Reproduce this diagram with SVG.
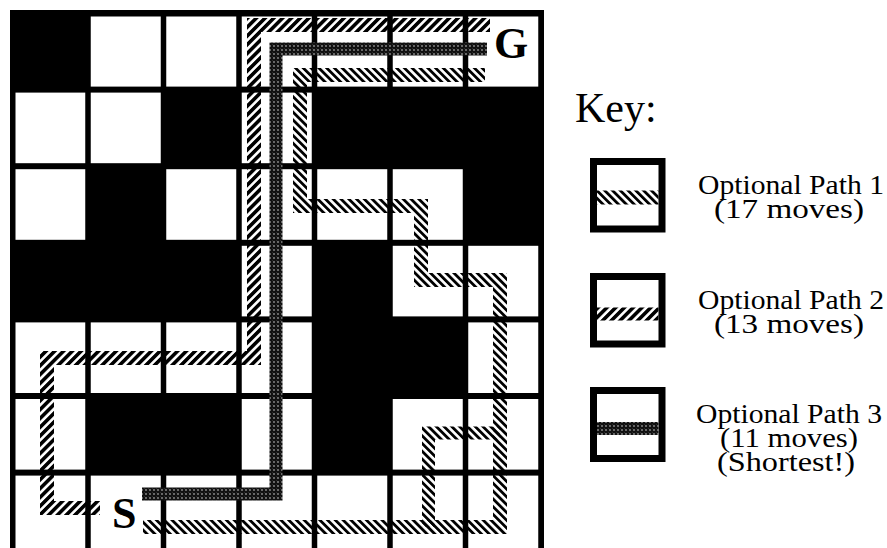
<svg xmlns="http://www.w3.org/2000/svg" width="887" height="548" viewBox="0 0 887 548">
<defs>
<style>
.c{fill:#fff}
.p1{fill:none;stroke:url(#h1);stroke-width:14;stroke-linejoin:miter}
.p2{fill:none;stroke:url(#h2);stroke-width:14;stroke-linejoin:miter}
.p3{fill:none;stroke:url(#h3);stroke-width:13;stroke-linejoin:miter}
.lbl{font-family:"Liberation Serif","Times New Roman",serif;font-weight:bold;font-size:44px;fill:#000}
.kt{font-family:"Liberation Serif","Times New Roman",serif;font-size:27px;fill:#000;text-anchor:middle}
.kb{fill:#fff;stroke:#000;stroke-width:7}
</style>
<pattern id="h1" width="5.5" height="5.5" patternUnits="userSpaceOnUse" patternTransform="rotate(-45)"><rect width="2.8" height="5.5" fill="#000"/></pattern>
<pattern id="h2" width="6.2" height="6.2" patternUnits="userSpaceOnUse" patternTransform="rotate(45)"><rect width="3.6" height="6.2" fill="#000"/></pattern>
<pattern id="h3" width="4" height="4" patternUnits="userSpaceOnUse"><rect width="4" height="4" fill="#111"/><circle cx="2" cy="2" r="0.7" fill="#fff"/><circle cx="0" cy="0" r="0.5" fill="#888"/></pattern>
</defs>
<rect width="887" height="548" fill="#fff"/>
<g id="grid">
<rect x="10" y="10" width="534" height="545" fill="#000"/>
<rect class="c" x="90.75" y="16.5" width="70" height="70.1"/>
<rect class="c" x="166.25" y="16.5" width="70" height="70.1"/>
<rect class="c" x="241.75" y="16.5" width="70" height="70.1"/>
<rect class="c" x="317.25" y="16.5" width="70" height="70.1"/>
<rect class="c" x="392.75" y="16.5" width="70" height="70.1"/>
<rect class="c" x="468.25" y="16.5" width="70" height="70.1"/>
<rect class="c" x="15.5" y="92.6" width="69.75" height="70.6"/>
<rect class="c" x="90.75" y="92.6" width="70" height="70.6"/>
<rect class="c" x="241.75" y="92.6" width="70" height="70.6"/>
<rect class="c" x="15.5" y="169.2" width="69.75" height="70.6"/>
<rect class="c" x="166.25" y="169.2" width="70" height="70.6"/>
<rect class="c" x="241.75" y="169.2" width="70" height="70.6"/>
<rect class="c" x="317.25" y="169.2" width="70" height="70.6"/>
<rect class="c" x="392.75" y="169.2" width="70" height="70.6"/>
<rect class="c" x="241.75" y="245.8" width="70" height="70.6"/>
<rect class="c" x="392.75" y="245.8" width="70" height="70.6"/>
<rect class="c" x="468.25" y="245.8" width="70" height="70.6"/>
<rect class="c" x="15.5" y="322.4" width="69.75" height="70.6"/>
<rect class="c" x="90.75" y="322.4" width="70" height="70.6"/>
<rect class="c" x="166.25" y="322.4" width="70" height="70.6"/>
<rect class="c" x="241.75" y="322.4" width="70" height="70.6"/>
<rect class="c" x="468.25" y="322.4" width="70" height="70.6"/>
<rect class="c" x="15.5" y="399" width="69.75" height="70.6"/>
<rect class="c" x="241.75" y="399" width="70" height="70.6"/>
<rect class="c" x="392.75" y="399" width="70" height="70.6"/>
<rect class="c" x="468.25" y="399" width="70" height="70.6"/>
<rect class="c" x="15.5" y="475.6" width="69.75" height="80"/>
<rect class="c" x="90.75" y="475.6" width="70" height="80"/>
<rect class="c" x="166.25" y="475.6" width="70" height="80"/>
<rect class="c" x="241.75" y="475.6" width="70" height="80"/>
<rect class="c" x="317.25" y="475.6" width="70" height="80"/>
<rect class="c" x="392.75" y="475.6" width="70" height="80"/>
<rect class="c" x="468.25" y="475.6" width="70" height="80"/>
</g>
<g id="paths">
<path id="path1" class="p1" d="M143 527 H500 V280 H421 V206 H300 V75 H485"/>
<path id="path1-loop" class="p1" d="M428.5 527 V433 H500" style="stroke-width:13"/>
<path id="path2" class="p2" d="M100 508 H47 V358 H254 V25 H490"/>
<path id="path3" class="p3" d="M142 494 H276 V49 H487"/>
</g>
<g id="start"><text class="lbl" x="112" y="528">S</text></g>
<g id="goal"><text class="lbl" x="494" y="58">G</text></g>
<g id="key">
<text x="575" y="122" style="font-family:'Liberation Serif','Times New Roman',serif;font-size:42px">Key:</text>
<g id="key1">
<rect class="kb" x="593.5" y="161.5" width="68.5" height="67.5"/>
<line x1="597" y1="197.5" x2="658.5" y2="197.5" style="stroke:url(#h1);stroke-width:14"/>
<text class="kt" x="791" y="194" textLength="186" lengthAdjust="spacingAndGlyphs">Optional Path 1</text>
<text class="kt" x="789" y="218" textLength="150" lengthAdjust="spacingAndGlyphs">(17 moves)</text>
</g>
<g id="key2">
<rect class="kb" x="593.5" y="276.5" width="68.5" height="67.5"/>
<line x1="597" y1="314" x2="658.5" y2="314" style="stroke:url(#h2);stroke-width:13"/>
<text class="kt" x="791" y="309" textLength="186" lengthAdjust="spacingAndGlyphs">Optional Path 2</text>
<text class="kt" x="789" y="333" textLength="150" lengthAdjust="spacingAndGlyphs">(13 moves)</text>
</g>
<g id="key3">
<rect class="kb" x="593.5" y="390.5" width="68.5" height="68"/>
<line x1="597" y1="428.5" x2="658.5" y2="428.5" style="stroke:url(#h3);stroke-width:13"/>
<text class="kt" x="789" y="423" textLength="186" lengthAdjust="spacingAndGlyphs">Optional Path 3</text>
<text class="kt" x="789" y="447" textLength="138" lengthAdjust="spacingAndGlyphs">(11 moves)</text>
<text class="kt" x="786" y="471" textLength="138" lengthAdjust="spacingAndGlyphs">(Shortest!)</text>
</g>
</g>
</svg>
